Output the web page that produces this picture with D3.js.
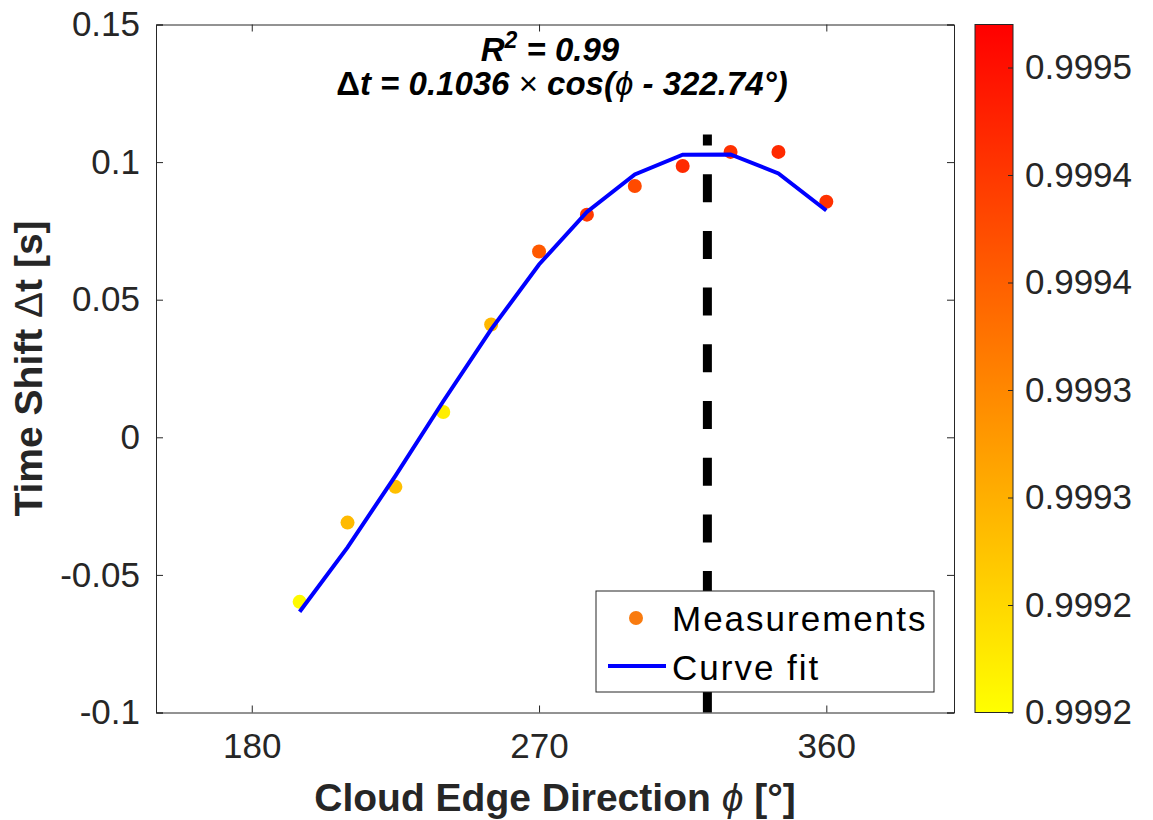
<!DOCTYPE html>
<html>
<head>
<meta charset="utf-8">
<script src="https://cdn.jsdelivr.net/npm/d3@7"></script>
<style>
  body { margin: 0; background: #fff; }
  text { font-family: "Liberation Sans", Arial, sans-serif; }
</style>
</head>
<body>
<script>
// measured cloud edge directions and time shifts, colored by correlation
const phi = [195, 210, 225, 240, 255, 270, 285, 300, 315, 330, 345, 360];
const timeShift = [-0.0598, -0.031, -0.018, 0.0092, 0.041, 0.0675, 0.0809, 0.0913, 0.0986, 0.1037, 0.1037, 0.0856];
const correlation = [0.999206, 0.999287, 0.99928, 0.999221, 0.99929, 0.999408, 0.999447, 0.999427, 0.999467, 0.999459, 0.999467, 0.999459];

// curve fit evaluated at the measured directions
const fitShift = [-0.0634, -0.0400, -0.0140, 0.0131, 0.0392, 0.0628, 0.0819, 0.0955, 0.1027, 0.1028, 0.0959, 0.0824];
const peakPhi = 322.74;
const peakLineRange = [-0.1, 0.11];

const xTicks = [180, 270, 360];
const yTicks = [-0.1, -0.05, 0, 0.05, 0.1, 0.15];
const yTickLabels = ["-0.1", "-0.05", "0", "0.05", "0.1", "0.15"];
const cTicks = [0.9992, 0.99925, 0.9993, 0.99935, 0.9994, 0.99945, 0.9995];
const cTickLabels = ["0.9992", "0.9992", "0.9993", "0.9993", "0.9994", "0.9994", "0.9995"];

const width = 1153;
const height = 820;
const marginLeft = 156, plotRight = 954, plotTop = 24.5, plotBottom = 712.5;
const axisColor = "#262626";

const svg = d3.select("body").append("svg")
    .attr("width", width)
    .attr("height", height);

const x = d3.scaleLinear().domain([150, 400]).range([marginLeft, plotRight]);
const y = d3.scaleLinear().domain([-0.1, 0.15]).range([plotBottom, plotTop]);
const cDomain = [0.9992, 0.99952];
const cy = d3.scaleLinear().domain(cDomain).range([plotBottom, plotTop]);
const color = d3.scaleLinear().domain(cDomain).range(["#ffff00", "#ff0000"]);

// dashed line at the fitted peak direction
svg.append("line")
    .attr("x1", x(peakPhi)).attr("x2", x(peakPhi))
    .attr("y1", y(peakLineRange[0])).attr("y2", y(peakLineRange[1]))
    .attr("stroke", "#000")
    .attr("stroke-width", 9)
    .attr("stroke-dasharray", "28 28.7");

// measurement dots
const points = phi.map((p, i) => ({ phi: p, dt: timeShift[i], c: correlation[i] }));
svg.selectAll(".pt")
    .data(points)
    .enter().append("circle")
    .attr("class", "pt")
    .attr("cx", d => x(d.phi))
    .attr("cy", d => y(d.dt))
    .attr("r", 7)
    .attr("fill", d => color(d.c));

// fitted curve
const fit = phi.map((p, i) => ({ phi: p, dt: fitShift[i] }));
svg.append("path")
    .datum(fit)
    .attr("fill", "none")
    .attr("stroke", "#0000ff")
    .attr("stroke-width", 4)
    .attr("d", d3.line().x(d => x(d.phi)).y(d => y(d.dt)));

// axes (ticks pointing inward like matlab)
const tickLen = 7;
svg.append("g")
    .attr("transform", `translate(0,${plotBottom})`)
    .call(d3.axisBottom(x).tickValues(xTicks).tickSize(-tickLen).tickPadding(21).tickFormat(d3.format("d")));
svg.append("g")
    .attr("transform", `translate(0,${plotTop})`)
    .call(d3.axisTop(x).tickValues(xTicks).tickSize(-tickLen).tickFormat(""));
svg.append("g")
    .attr("transform", `translate(${marginLeft},0)`)
    .call(d3.axisLeft(y).tickValues(yTicks).tickSize(-tickLen).tickPadding(16)
        .tickFormat((d, i) => yTickLabels[i]));
svg.append("g")
    .attr("transform", `translate(${plotRight},0)`)
    .call(d3.axisRight(y).tickValues(yTicks).tickSize(-tickLen).tickFormat(""));

svg.selectAll(".domain").attr("stroke", axisColor);
svg.selectAll(".tick line").attr("stroke", axisColor);
svg.selectAll(".tick text")
    .attr("fill", axisColor)
    .style("font-size", "35px")
    .style("font-family", "'Liberation Sans', Arial, sans-serif");

// axis labels
svg.append("text")
    .attr("x", (marginLeft + plotRight) / 2)
    .attr("y", 811)
    .attr("text-anchor", "middle")
    .attr("fill", axisColor)
    .style("font-size", "39px")
    .style("font-weight", "bold")
    .call(t => {
        t.append("tspan").text("Cloud Edge Direction ");
        t.append("tspan").style("font-style", "italic").style("font-weight", "normal").text("ϕ");
        t.append("tspan").text(" [°]");
    });

svg.append("text")
    .attr("transform", `translate(42,${(plotTop + plotBottom) / 2}) rotate(-90)`)
    .attr("text-anchor", "middle")
    .attr("fill", axisColor)
    .style("font-size", "39px")
    .style("font-weight", "bold")
    .call(t => {
        t.append("tspan").text("Time Shift ");
        t.append("tspan").style("font-weight", "normal").text("Δ");
        t.append("tspan").text("t [s]");
    });

// fit annotation
const ann = svg.append("text")
    .attr("text-anchor", "middle")
    .attr("fill", "#000")
    .style("font-size", "33px")
    .style("font-weight", "bold")
    .style("font-style", "italic");
ann.append("tspan").attr("x", 550).attr("y", 61).text("R");
ann.append("tspan").attr("dy", -13).style("font-size", "23px").text("2");
ann.append("tspan").attr("dy", 13).text(" = 0.99");
const ann2 = svg.append("text")
    .attr("x", 562).attr("y", 95)
    .attr("text-anchor", "middle")
    .attr("fill", "#000")
    .style("font-size", "33px")
    .style("font-weight", "bold")
    .style("font-style", "italic");
ann2.append("tspan").style("font-style", "normal").text("Δ");
ann2.append("tspan").text("t = 0.1036 ");
ann2.append("tspan").style("font-style", "normal").style("font-weight", "normal").text("×");
ann2.append("tspan").text(" cos(");
ann2.append("tspan").style("font-weight", "normal").text("ϕ");
ann2.append("tspan").text(" - 322.74°)");

// legend
const lg = svg.append("g");
lg.append("rect")
    .attr("x", 596).attr("y", 591)
    .attr("width", 338).attr("height", 101)
    .attr("fill", "#fff")
    .attr("stroke", axisColor)
    .attr("stroke-width", 1);
lg.append("circle")
    .attr("cx", 636).attr("cy", 618).attr("r", 7)
    .attr("fill", "#f97b0f");
lg.append("text")
    .attr("x", 672).attr("y", 631)
    .attr("fill", "#000")
    .style("font-size", "35px")
    .style("letter-spacing", "2px")
    .text("Measurements");
lg.append("line")
    .attr("x1", 608).attr("x2", 666)
    .attr("y1", 666).attr("y2", 666)
    .attr("stroke", "#0000ff")
    .attr("stroke-width", 4);
lg.append("text")
    .attr("x", 672).attr("y", 680)
    .attr("fill", "#000")
    .style("font-size", "35px")
    .style("letter-spacing", "2px")
    .text("Curve fit");

// colorbar
const cbLeft = 975, cbRight = 1013;
const grad = svg.append("defs").append("linearGradient")
    .attr("id", "cbGrad")
    .attr("x1", 0).attr("y1", 1).attr("x2", 0).attr("y2", 0);
grad.append("stop").attr("offset", 0).attr("stop-color", color(cDomain[0]));
grad.append("stop").attr("offset", 1).attr("stop-color", color(cDomain[1]));
svg.append("rect")
    .attr("x", cbLeft).attr("y", plotTop)
    .attr("width", cbRight - cbLeft).attr("height", plotBottom - plotTop)
    .attr("fill", "url(#cbGrad)")
    .attr("stroke", axisColor)
    .attr("stroke-width", 1);
const gc = svg.append("g")
    .attr("transform", `translate(${cbRight},0)`)
    .call(d3.axisRight(cy).tickValues(cTicks).tickSize(-5).tickPadding(12)
        .tickFormat((d, i) => cTickLabels[i]));
gc.select(".domain").remove();
gc.selectAll(".tick line").attr("stroke", axisColor);
gc.selectAll(".tick text")
    .attr("fill", axisColor)
    .style("font-size", "35px")
    .style("font-family", "'Liberation Sans', Arial, sans-serif");
</script>
</body>
</html>
